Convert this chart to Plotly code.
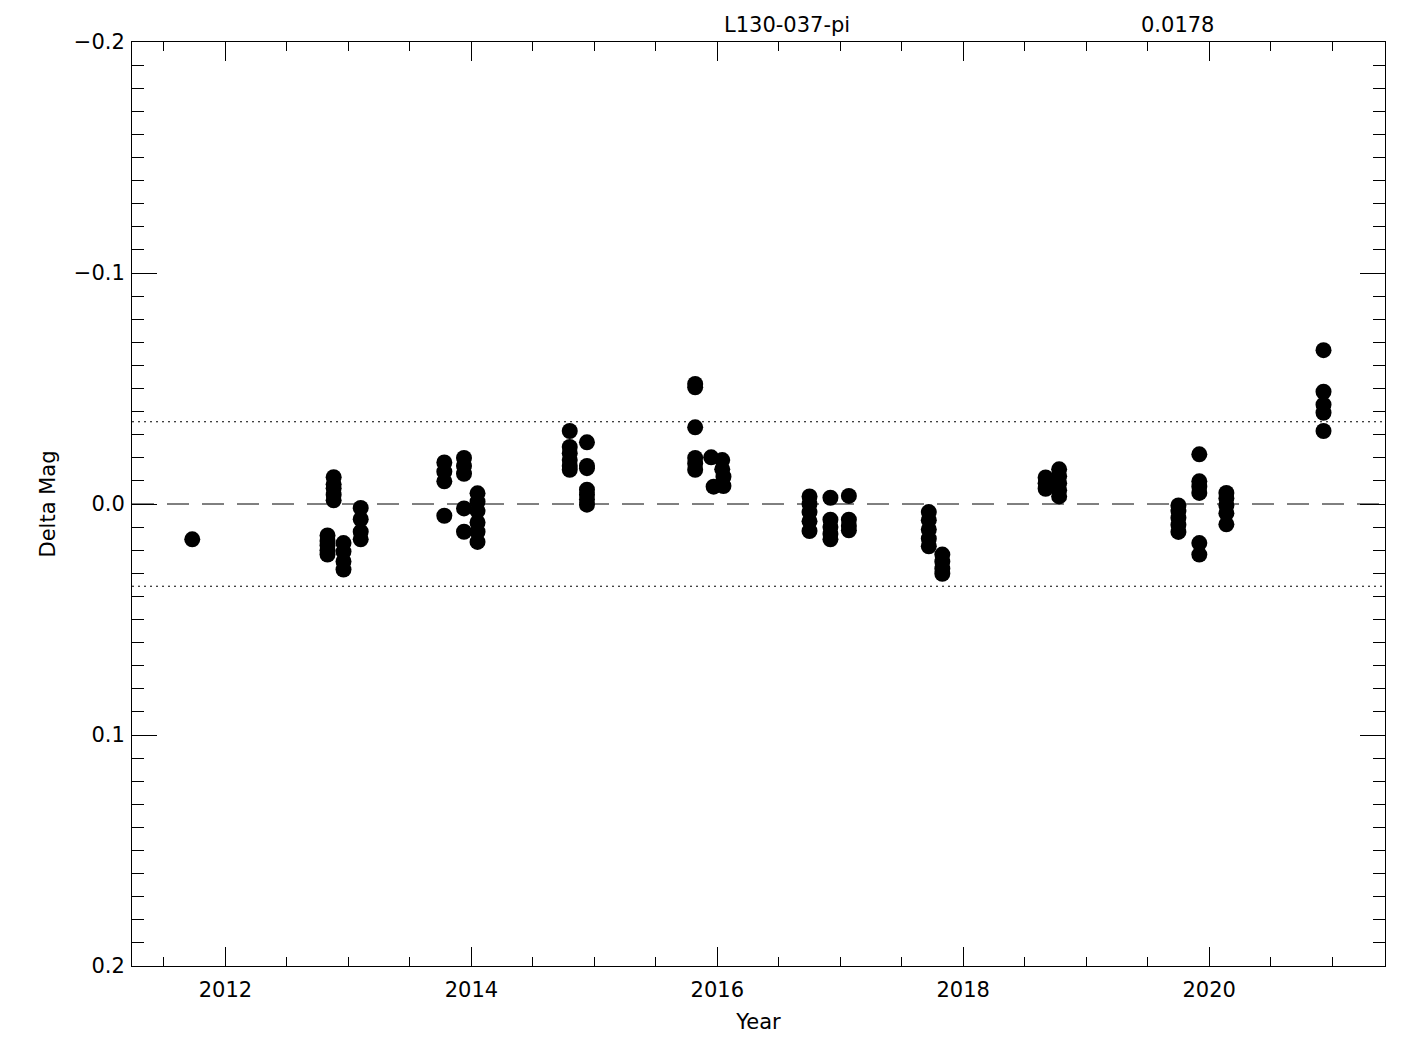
import plotly.graph_objects as go

# ---- data ----
years = [
    2011.73,
    2012.88, 2012.88, 2012.88, 2012.88, 2012.88,
    2012.83, 2012.83, 2012.83, 2012.83, 2012.83,
    2012.96, 2012.96, 2012.96, 2012.96,
    2013.10, 2013.10, 2013.10, 2013.10,
    2013.78, 2013.78, 2013.78, 2013.78,
    2013.94, 2013.94, 2013.94, 2013.94, 2013.94,
    2014.05, 2014.05, 2014.05, 2014.05, 2014.05, 2014.05,
    2014.80, 2014.80, 2014.80, 2014.80, 2014.80, 2014.80,
    2014.94, 2014.94, 2014.94, 2014.94, 2014.94, 2014.94, 2014.94,
    2015.82, 2015.82, 2015.82, 2015.82, 2015.82, 2015.82,
    2015.95, 2016.04, 2016.04, 2015.97, 2016.05, 2016.05,
    2016.75, 2016.75, 2016.75, 2016.75, 2016.75,
    2016.92, 2016.92, 2016.92, 2016.92, 2016.92,
    2017.07, 2017.07, 2017.07, 2017.07,
    2017.72, 2017.72, 2017.72, 2017.72, 2017.72,
    2017.83, 2017.83, 2017.83, 2017.83,
    2018.67, 2018.67, 2018.67,
    2018.78, 2018.78, 2018.78, 2018.78, 2018.78,
    2019.75, 2019.75, 2019.75, 2019.75, 2019.75,
    2019.92, 2019.92, 2019.92, 2019.92, 2019.92, 2019.92,
    2020.14, 2020.14, 2020.14, 2020.14, 2020.14,
    2020.93, 2020.93, 2020.93, 2020.93, 2020.93,
]
delta_mag = [
    0.0153,
    -0.0116, -0.0085, -0.0068, -0.0040, -0.0016,
    0.0136, 0.0160, 0.0180, 0.0200, 0.0219,
    0.0169, 0.0206, 0.0249, 0.0284,
    0.0017, 0.0066, 0.0120, 0.0153,
    -0.0180, -0.0140, -0.0098, 0.0051,
    -0.0199, -0.0165, -0.0131, 0.0019, 0.0120,
    -0.0046, -0.0010, 0.0030, 0.0080, 0.0120, 0.0164,
    -0.0316, -0.0247, -0.0220, -0.0190, -0.0165, -0.0148,
    -0.0267, -0.0165, -0.0155, -0.0062, -0.0040, -0.0020, 0.0003,
    -0.0520, -0.0505, -0.0332, -0.0199, -0.0175, -0.0148,
    -0.0202, -0.0190, -0.0150, -0.0075, -0.0078, -0.0118,
    -0.0033, 0.0000, 0.0035, 0.0075, 0.0117,
    -0.0027, 0.0068, 0.0100, 0.0130, 0.0153,
    -0.0035, 0.0068, 0.0095, 0.0114,
    0.0035, 0.0070, 0.0110, 0.0150, 0.0183,
    0.0219, 0.0250, 0.0280, 0.0302,
    -0.0115, -0.0090, -0.0066,
    -0.0150, -0.0120, -0.0090, -0.0060, -0.0033,
    0.0006, 0.0030, 0.0060, 0.0090, 0.0121,
    -0.0215, -0.0098, -0.0075, -0.0048, 0.0169, 0.0219,
    -0.0048, -0.0025, 0.0005, 0.0040, 0.0088,
    -0.0666, -0.0486, -0.0430, -0.0395, -0.0316,
]
star_name = "L130-037-pi"
rms = 0.0178
limit = 2 * rms
x_tickvals = [2012, 2014, 2016, 2018, 2020]
x_ticktext = ["2012", "2014", "2016", "2018", "2020"]
y_tickvals = [-0.2, -0.1, 0.0, 0.1, 0.2]
y_ticktext = ["\u22120.2", "\u22120.1", "0.0", "0.1", "0.2"]
x_range = [2011.24, 2021.43]
y_range = [0.2, -0.2]

FONT = "DejaVu Sans"
FS = 21

fig = go.Figure()
fig.add_trace(go.Scatter(
    x=years, y=delta_mag, mode="markers",
    marker=dict(color="black", size=16, line=dict(width=0)),
    showlegend=False, hoverinfo="x+y",
))

# reference lines
fig.add_shape(type="line", xref="paper", yref="y", x0=0, x1=1, y0=0, y1=0,
              line=dict(color="black", width=1, dash="22px,13px"))
for v in (limit, -limit):
    fig.add_shape(type="line", xref="paper", yref="y", x0=0, x1=1, y0=v, y1=v,
                  line=dict(color="black", width=1, dash="2px,4px"))

PW = 1385 - 132
fig.add_annotation(text=star_name, xref="paper", yref="paper",
                   x=(786.5 - 132) / PW, y=1, yshift=17, xanchor="center", yanchor="middle",
                   showarrow=False, font=dict(family=FONT, size=FS, color="black"))
fig.add_annotation(text=f"{rms:.4f}", xref="paper", yref="paper",
                   x=(1177 - 132) / PW, y=1, yshift=17, xanchor="center", yanchor="middle",
                   showarrow=False, font=dict(family=FONT, size=FS, color="black"))

fig.update_layout(
    width=1417, height=1042,
    margin=dict(l=124, r=40, t=34, b=84),
    paper_bgcolor="white", plot_bgcolor="white",
    font=dict(family=FONT, size=FS, color="black"),
)
fig.update_xaxes(
    range=x_range, tickvals=x_tickvals, ticktext=x_ticktext,
    ticks="inside", ticklen=19, tickwidth=1, tickcolor="black",
    ticklabelstandoff=5,
    minor=dict(dtick=0.5, tick0=2012, ticks="inside", ticklen=9, tickcolor="black", tickwidth=1, showgrid=False),
    showline=True, linecolor="black", linewidth=1, mirror="allticks",
    showgrid=False, zeroline=False,
    title=dict(text="Year", font=dict(family=FONT, size=FS), standoff=13),
)
fig.update_yaxes(
    range=y_range, tickvals=y_tickvals, ticktext=y_ticktext,
    ticks="inside", ticklen=25, tickwidth=1, tickcolor="black",
    ticklabelstandoff=2,
    minor=dict(dtick=0.01, tick0=0, ticks="inside", ticklen=12, tickcolor="black", tickwidth=1, showgrid=False),
    showline=True, linecolor="black", linewidth=1, mirror="allticks",
    showgrid=False, zeroline=False,
    title=dict(text="Delta Mag", font=dict(family=FONT, size=FS), standoff=12),
)

fig.write_html("out.html")
